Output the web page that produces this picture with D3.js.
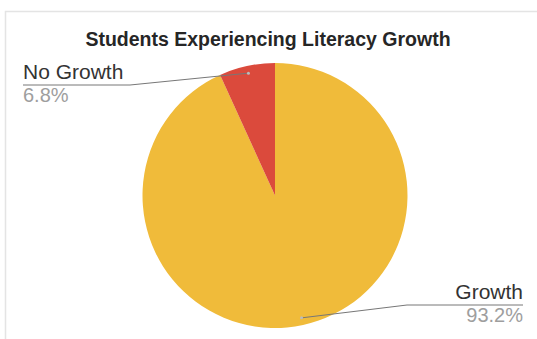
<!DOCTYPE html>
<html>
<head>
<meta charset="utf-8">
<script src="https://cdn.jsdelivr.net/npm/d3@7"></script>
<style>
  body { margin: 0; background: #fff; }
  svg { display: block; font-family: Arial, "Liberation Sans", sans-serif; }
</style>
</head>
<body>
<svg id="chart" width="537" height="339"></svg>
<script>
// slice data, in drawing order (clockwise from 12 o'clock)
var labels = ["Growth", "No Growth"];
var values = [93.2, 6.8];
var colors = ["#F0BB3A", "#DB4A3C"];
var title = "Students Experiencing Literacy Growth";

var svg = d3.select("#chart");
var width = +svg.attr("width"),
    height = +svg.attr("height");

// faint frame of the chart area
svg.append("path")
    .attr("d", "M5.5,339 V11.5 H537")
    .attr("fill", "none")
    .attr("stroke", "#e4e4e4")
    .attr("stroke-width", 1.5);

svg.append("text")
    .attr("x", 268)
    .attr("y", 46)
    .attr("text-anchor", "middle")
    .attr("font-weight", "bold")
    .attr("font-size", 19.5)
    .attr("fill", "#262626")
    .text(title);

var cx = 275, cy = 195.5, r = 132.5;

var pie = d3.pie().sort(null).value(function(d) { return d; });
var arcs = pie(values);
var arc = d3.arc().innerRadius(0).outerRadius(r);

var g = svg.append("g").attr("transform", "translate(" + cx + "," + cy + ")");

g.selectAll("path")
    .data(arcs)
  .enter().append("path")
    .attr("d", arc)
    .attr("fill", function(d, i) { return colors[i]; });

// leader lines + labels
var fmt = function(v) { return v.toFixed(1) + "%"; };
var labelPos = [
    { side: "right", x: 523, y: 305, lineStart: 407 },
    { side: "left", x: 23, y: 85, lineStart: 130 }
];

arcs.forEach(function(d, i) {
    var mid = (d.startAngle + d.endAngle) / 2;
    var pr = r * 0.945;
    var px = cx + pr * Math.sin(mid),
        py = cy - pr * Math.cos(mid);
    var lp = labelPos[i];

    svg.append("path")
        .attr("d", "M" + px + "," + py + " L" + lp.lineStart + "," + lp.y + " L" + lp.x + "," + lp.y)
        .attr("fill", "none")
        .attr("stroke", "#777")
        .attr("stroke-width", 1);

    svg.append("circle")
        .attr("cx", px).attr("cy", py).attr("r", 1.5)
        .attr("fill", "#bbb");

    var anchor = lp.side == "right" ? "end" : "start";
    svg.append("text")
        .attr("x", lp.x).attr("y", lp.y - 6)
        .attr("text-anchor", anchor)
        .attr("font-size", 21)
        .attr("fill", "#333")
        .text(labels[i]);

    svg.append("text")
        .attr("x", lp.x).attr("y", lp.y + 17)
        .attr("text-anchor", anchor)
        .attr("font-size", 20)
        .attr("fill", "#9e9e9e")
        .text(fmt(values[i]));
});
</script>
</body>
</html>
